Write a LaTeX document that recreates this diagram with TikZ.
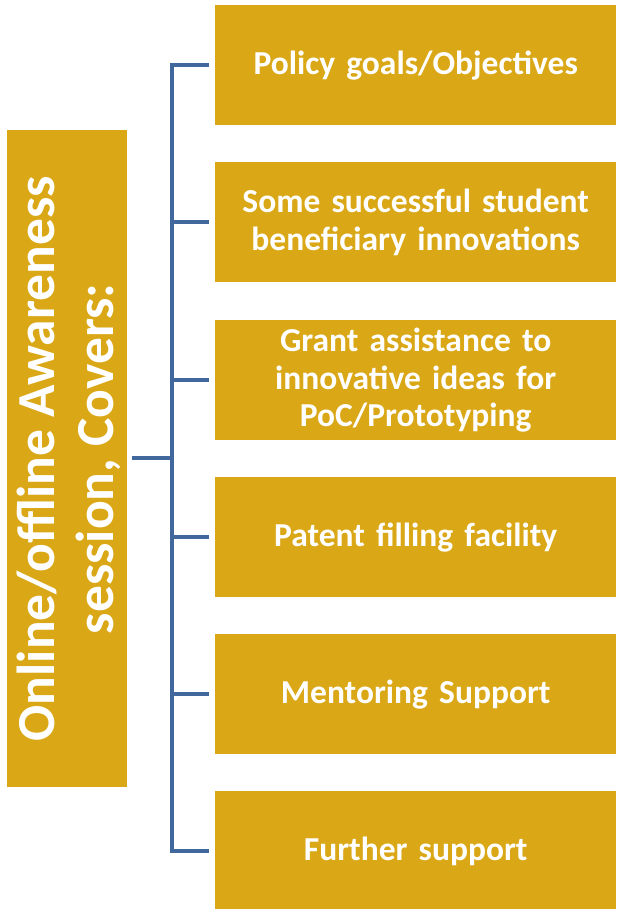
\documentclass[tikz,border=0pt]{standalone}
\usepackage{fontspec}
\setmainfont{Carlito}
\definecolor{gold}{HTML}{DAA717}
\definecolor{linkblue}{HTML}{41689C}
\begin{document}
\begin{tikzpicture}[x=1pt,y=-1pt,
  itembox/.style={fill=gold, draw=none, minimum width=401pt, minimum height=120pt,
     anchor=north west, inner sep=0pt, text=white, font=\bfseries\fontsize{33.5}{37.5}\selectfont,
     align=center, text width=395pt},
  conn/.style={draw=linkblue, line width=4.5pt}]
\useasboundingbox (0,0) rectangle (616,909);
\node[fill=gold, minimum width=120pt, minimum height=657pt, anchor=north west, inner sep=0pt] (main) at (7,130) {};
\node[rotate=90, text=white, font=\bfseries\fontsize{53.5}{59}\selectfont, align=center] (maintext) at ([xshift=2pt]main.center) {Online/offline Awareness\\session, Covers:};
\node[itembox] (b1) at (215,5) {Policy goals/Objectives};
\node[itembox] (b2) at (215,162) {Some successful student\\beneficiary innovations};
\node[itembox] (b3) at (215,320) {Grant assistance to\\innovative ideas for\\PoC/Prototyping};
\node[itembox] (b4) at (215,477) {Patent filling facility};
\node[itembox] (b5) at (215,634) {Mentoring Support};
\node[itembox] (b6) at (215,791) {Further support};
\coordinate (stub) at (132,458);
\coordinate (hub) at (172,458);
\draw[conn] (stub) -- (hub);
\foreach \i in {1,...,6} {
  \coordinate (t\i) at (172,0 |- b\i.west);
}
\draw[conn, line join=miter] ([xshift=-6pt]b1.west) -- (t1) -- (t6) -- ([xshift=-6pt]b6.west);
\foreach \i in {2,3,4,5} {
  \draw[conn] (t\i) -- ([xshift=-6pt]b\i.west);
}
\end{tikzpicture}
\end{document}
